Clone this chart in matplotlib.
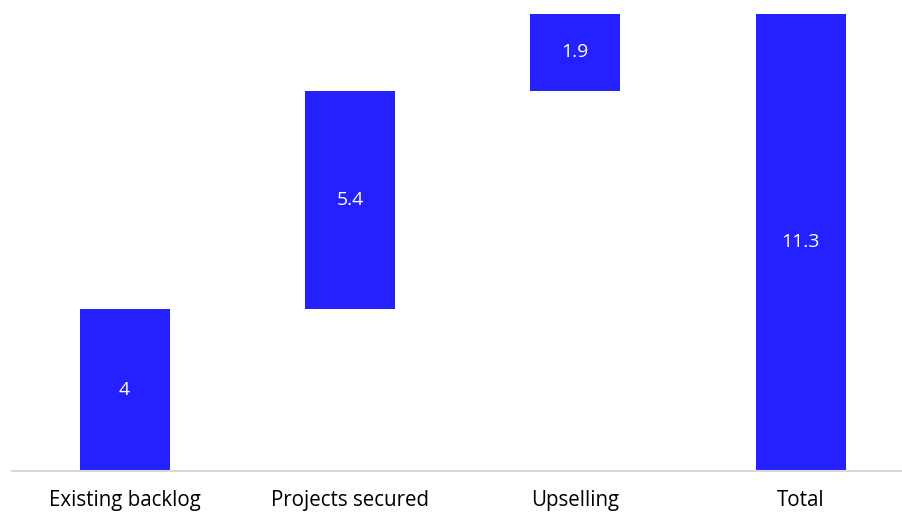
import numpy as np
import matplotlib.pyplot as plt

categories = ['Existing backlog', 'Projects secured', 'Upselling', 'Total']
steps = [4, 5.4, 1.9]
total = 11.3

BAR_COLOR = '#2420FE'
AXIS_COLOR = '#D9D9D9'

plt.rcParams['font.family'] = ['Open Sans', 'DejaVu Sans']

# waterfall: each step starts where the previous one ended, total starts at 0
heights = steps + [total]
bottoms = list(np.concatenate([[0], np.cumsum(steps)[:-1]])) + [0]

fig = plt.figure(figsize=(9.02, 5.12), dpi=100)
ax = fig.add_axes([12 / 902, (512 - 470.5) / 512, 890 / 902, 456.5 / 512])

x = np.arange(len(categories))
bars = ax.bar(x, heights, bottom=bottoms, width=0.4, color=BAR_COLOR, zorder=2)

for xi, h, b in zip(x, heights, bottoms):
    label = f'{h:g}'
    ax.text(xi, b + h / 2, label, ha='center', va='center',
            color='white', fontsize=14)

ax.set_xlim(-0.5, 3.45)
ax.set_ylim(0, total)
ax.set_xticks(x)
ax.set_xticklabels(categories, fontsize=14.8)
ax.tick_params(axis='x', length=0, pad=14)
ax.set_yticks([])

for side in ['top', 'right', 'left']:
    ax.spines[side].set_visible(False)
ax.spines['bottom'].set_color(AXIS_COLOR)
ax.spines['bottom'].set_linewidth(1.5)

fig.savefig('out.png', dpi=100)
